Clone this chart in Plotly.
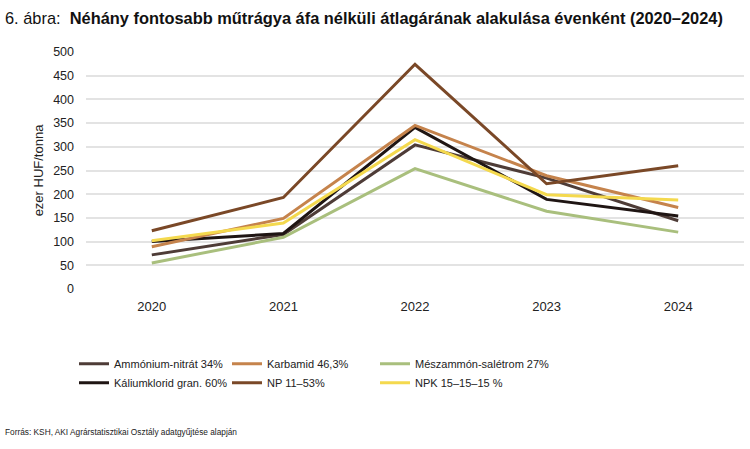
import plotly.graph_objects as go

years = ["2020", "2021", "2022", "2023", "2024"]

ammonium_nitrat = [72, 115, 304, 234, 144]
karbamid = [89, 149, 345, 239, 172]
meszammon = [55, 109, 254, 164, 120]
kaliumklorid = [100, 117, 341, 189, 154]
np_11_53 = [123, 193, 474, 222, 260]
npk = [102, 139, 315, 199, 188]

series = [
    ("Ammónium-nitrát 34%", ammonium_nitrat, "#4e3c37", "legend"),
    ("Káliumklorid gran. 60%", kaliumklorid, "#1f1513", "legend"),
    ("Karbamid 46,3%", karbamid, "#c5834c", "legend2"),
    ("NP 11–53%", np_11_53, "#7a4827", "legend2"),
    ("Mészammón-salétrom 27%", meszammon, "#a9bf7d", "legend3"),
    ("NPK 15–15–15 %", npk, "#f4d94e", "legend3"),
]

fig = go.Figure()
for name, vals, color, leg in series:
    fig.add_trace(go.Scatter(
        x=years, y=vals, name=name, mode="lines",
        line=dict(color=color, width=3),
        legend=leg,
    ))

W, H = 750, 449
l, r, t, b = 86, 6, 52, 160
pw, ph = W - l - r, H - t - b

def px2x(px):
    return (px - l) / pw

def px2y(py):
    return (H - b - py) / ph

font_main = "Liberation Sans, Arial"
legend_common = dict(
    orientation="v", font=dict(family=font_main, size=11, color="#222"),
    bgcolor="rgba(0,0,0,0)", itemwidth=30, tracegroupgap=0,
    xref="paper", yref="container", yanchor="top", xanchor="left",
    itemclick=False, itemdoubleclick=False,
)
fig.update_layout(
    width=W, height=H,
    margin=dict(l=l, r=r, t=t, b=b),
    paper_bgcolor="white", plot_bgcolor="white",
    font=dict(family=font_main, size=12, color="#222"),
    showlegend=True,
    legend=dict(x=px2x(74), y=0.222, **legend_common),
    legend2=dict(x=px2x(227), y=0.222, **legend_common),
    legend3=dict(x=px2x(375), y=0.222, **legend_common),
    xaxis=dict(type="category", range=[-0.5, 4.5], showgrid=False, showline=False,
               ticks="", ticklabelstandoff=8, tickfont=dict(size=13, color="#222")),
    yaxis=dict(range=[0, 500], dtick=50, showgrid=True, gridcolor="#e3e3e3",
               gridwidth=1.5, zeroline=False, showline=False, ticks="",
               ticklabelstandoff=11, tickfont=dict(size=12.5, color="#222"),
               title=dict(text="ezer HUF/tonna", font=dict(size=13, color="#222"), standoff=6)),
    annotations=[
        dict(text="6. ábra:  <b>Néhány fontosabb műtrágya áfa nélküli átlagárának alakulása évenként (2020–2024)</b>",
             x=px2x(3), y=px2y(18), xref="paper", yref="paper", showarrow=False,
             xanchor="left", yanchor="middle",
             font=dict(family=font_main, size=16.4, color="#111")),
        dict(text="Forrás: KSH, AKI Agrárstatisztikai Osztály adatgyűjtése alapján",
             x=px2x(3), y=px2y(432), xref="paper", yref="paper", showarrow=False,
             xanchor="left", yanchor="middle",
             font=dict(family=font_main, size=8.3, color="#222")),
    ],
)

fig.write_html(
    "out.html",
    config={"displayModeBar": False},
    post_script="document.body.style.margin='0';document.body.style.overflow='hidden';",
)
